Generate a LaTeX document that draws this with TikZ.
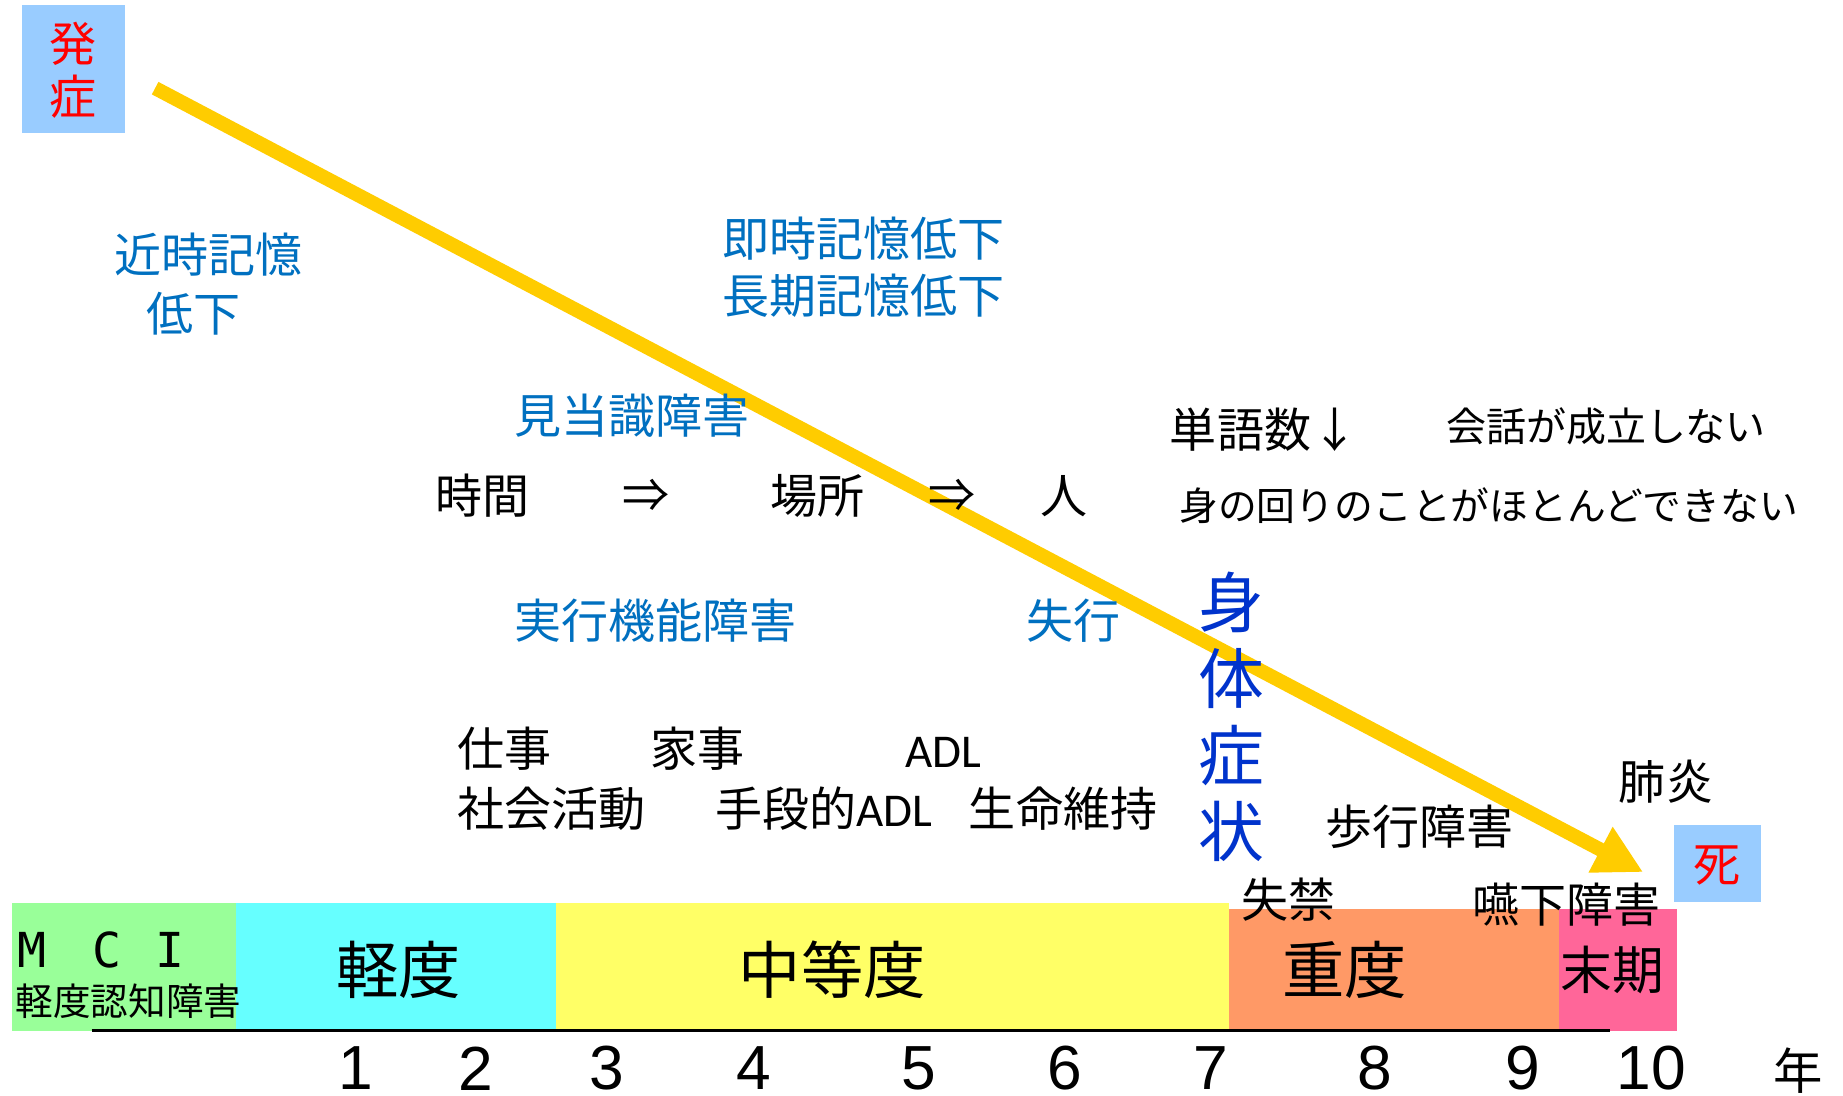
\documentclass[tikz,border=0pt]{standalone}
\usepackage{graphicx}
\usepackage{fontspec}
\setmainfont{Noto Sans CJK JP}
\newfontfamily\latinf{Liberation Sans}
\newfontfamily\calf{Carlito}
\newfontfamily\monof{DejaVu Sans Mono}
\usetikzlibrary{arrows.meta}
\definecolor{boxblue}{HTML}{99CCFF}
\definecolor{lblblue}{HTML}{0070C0}
\definecolor{bodyblue}{HTML}{0033CC}
\definecolor{arrowyel}{HTML}{FFCC00}
\definecolor{stgreen}{HTML}{99FF99}
\definecolor{stcyan}{HTML}{66FFFF}
\definecolor{styellow}{HTML}{FFFF66}
\definecolor{storange}{HTML}{FF9966}
\definecolor{stpink}{HTML}{FF6699}
\newcommand\myfs[1]{\fontsize{#1}{#1}\selectfont}
\tikzset{
  lbl/.style={anchor=west, inner sep=0pt, font=\myfs{20pt}},
  blu/.style={lbl, text=lblblue},
  blk/.style={lbl, text=black},
  ctr/.style={anchor=center, inner sep=0pt},
  stage/.style={ctr, font=\myfs{26.5pt}},
  num/.style={ctr, font=\latinf\myfs{26.5pt}},
  mcil/.style={ctr, font=\monof\myfs{20.5pt}},
}
\begin{document}
\begin{tikzpicture}[x=0.5pt,y=-0.5pt]
\useasboundingbox[fill=white] (0,0) rectangle (1568,932);

% onset and death boxes
\fill[boxblue] (19,4) rectangle (106,113);
\node[ctr, text=red, align=center, font=\fontsize{20pt}{22.5pt}\selectfont] (onset) at (62,60) {発\\症};
\fill[boxblue] (1424,702) rectangle (1498,767);
\node[ctr, text=red, font=\myfs{20pt}] (death) at (1461,736) {死};

% stage bars
\fill[stgreen] (10,768) rectangle (201,877);
\fill[stcyan] (201,768) rectangle (473,877);
\fill[styellow] (473,768) rectangle (1046,877);
\fill[storange] (1046,773) rectangle (1326,877);
\fill[stpink] (1326,773) rectangle (1427,877);
\coordinate (axL) at (78,877);
\coordinate (axR) at (1370,877);
\draw[line width=1.2pt] (axL) -- (axR);

% yellow arrow
\coordinate (arrS) at (132,75);
\coordinate (arrE) at (1398,742);
\draw[line width=6pt, arrowyel, -{Triangle[width=20.5pt,length=20.5pt]}] (arrS) -- (arrE);

% blue labels
\node[blu] (kin1) at (97,217) {近時記憶};
\node[blu] (kin2) at (124,267) {低下};
\node[blu] (soku) at (614,203) {即時記憶低下};
\node[blu] (chou) at (614,252) {長期記憶低下};
\node[blu] (kento) at (437,354) {見当識障害};
\node[blu] (jikko) at (437,528) {実行機能障害};
\node[blu] (shikko) at (873,528) {失行};

% black labels
\node[blk] (jikan) at (370,422) {時間};
\node[ctr, font=\myfs{20pt}] (ar1) at (550,422) {⇒};
\node[blk] (basho) at (655,422) {場所};
\node[ctr, font=\myfs{20pt}] (ar2) at (810,422) {⇒};
\node[ctr, font=\myfs{20pt}] (hito) at (905,422) {人};
\node[blk] (tango) at (995,366) {単語数↓};
\node[blk, font=\myfs{17pt}] (kaiwa) at (1230,363) {会話が成立しない};
\node[blk, font=\myfs{16.5pt}] (mino) at (1003,430) {身の回りのことがほとんどできない};
\node[blk] (shigoto) at (389,637) {仕事};
\node[blk] (kaji) at (553,637) {家事};
\node[blk, font=\calf\myfs{20pt}] (adl) at (770,640) {ADL};
\node[blk] (shakai) at (389,688) {社会活動};
\node[blk] (shudan) at (608,688) {手段的{\calf ADL}};
\node[blk] (seimei) at (824,688) {生命維持};
\node[blk] (hoko) at (1127,703) {歩行障害};
\node[blk] (haien) at (1377,665) {肺炎};
\node[blk] (shikkin) at (1056,765) {失禁};
\node[blk] (enge) at (1252,770) {嚥下障害};

% physical symptoms
\node[ctr, text=bodyblue, align=center, font=\fontsize{28pt}{32.5pt}\selectfont] (shintai) at (1048,610) {身\\体\\症\\状};

% stage labels
\node[mcil] (mciM) at (27,808) {M};
\node[mcil] (mciC) at (91,808) {C};
\node[mcil] (mciI) at (145,808) {I};
\node[lbl, font=\myfs{16pt}] (mcij) at (13,852) {軽度認知障害};
\node[stage] (keido) at (339,825) {軽度};
\node[stage] (chuto) at (708,825) {中等度};
\node[stage] (judo) at (1144,825) {重度};
\node[stage, font=\myfs{22pt}] (makki) at (1372,825) {末期};

% years
\node[num] (y1) at (303,909) {1};
\node[num] (y2) at (405,909) {2};
\node[num] (y3) at (516,909) {3};
\node[num] (y4) at (641,909) {4};
\node[num] (y5) at (782,909) {5};
\node[num] (y6) at (906,909) {6};
\node[num] (y7) at (1030,909) {7};
\node[num] (y8) at (1170,909) {8};
\node[num] (y9) at (1296,909) {9};
\node[num] (y10) at (1405,909) {10};
\node[ctr, font=\myfs{21pt}] (nen) at (1530,911) {年};
\end{tikzpicture}
\end{document}
